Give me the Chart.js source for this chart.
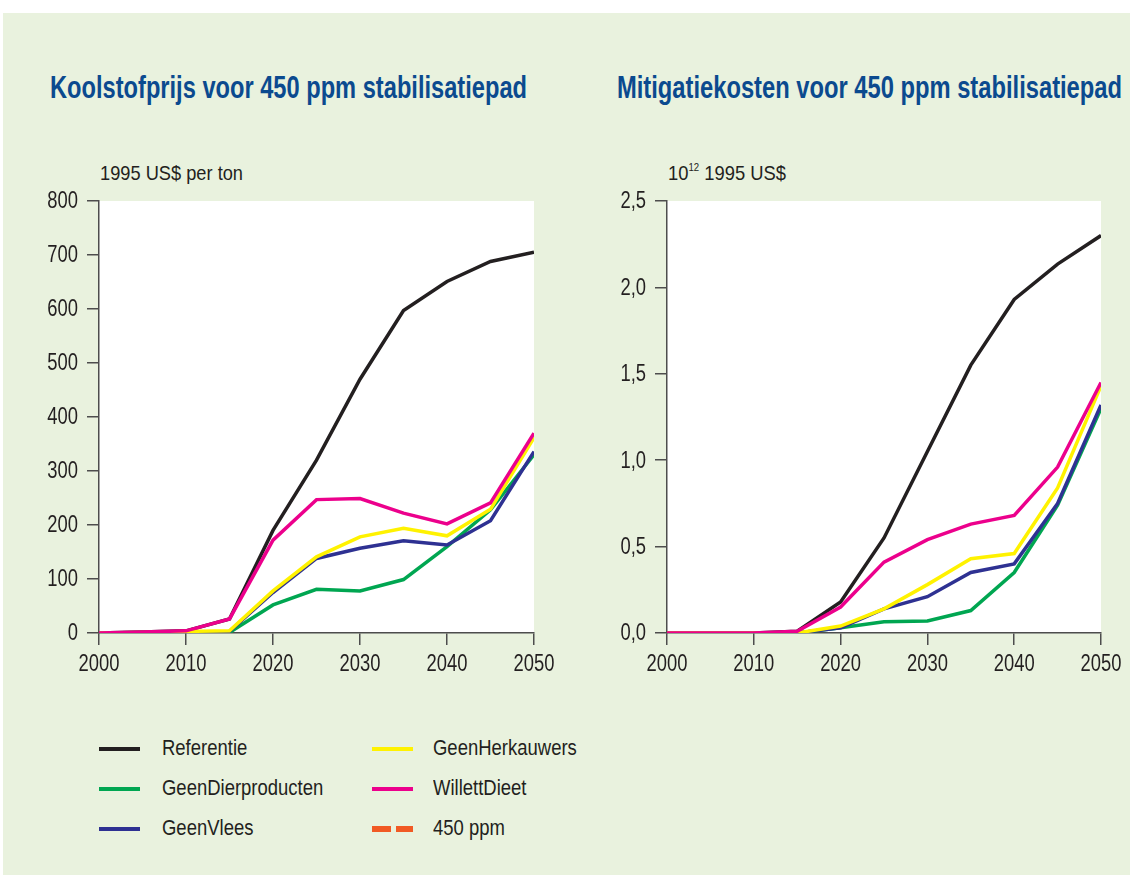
<!DOCTYPE html>
<html>
<head>
<meta charset="utf-8">
<script src="https://cdn.jsdelivr.net/npm/chart.js@4.4.1/dist/chart.umd.min.js"></script>
<style>
  html, body { margin:0; padding:0; background:#ffffff; }
  body { width:1130px; height:875px; position:relative; overflow:hidden;
         font-family:'Liberation Sans',Arial,sans-serif; color:#231f20; }
  #panel { position:absolute; left:3px; top:13px; width:1127px; height:862px; background:#e9f2de; }
  .fit { transform-origin:0 0; }
  .title { position:absolute; font-weight:bold; font-size:31px; line-height:31px; color:#0b4a8f; white-space:nowrap; }
  .unit { position:absolute; font-size:21px; line-height:21px; white-space:nowrap; }
  .unit sup { font-size:11px; line-height:0; vertical-align:9px; }
  canvas { position:absolute; }
  .leg { position:absolute; font-size:22px; line-height:22px; white-space:nowrap; }
  .sw { position:absolute; height:4px; }
</style>
</head>
<body>
<div id="panel"></div>
<div class="title fit" data-w="477" style="left:50px; top:72px;">Koolstofprijs voor 450 ppm stabilisatiepad</div>
<div class="title fit" data-w="505" style="left:617px; top:72px;">Mitigatiekosten voor 450 ppm stabilisatiepad</div>
<div class="unit fit" data-w="143" style="left:100px; top:162px;">1995 US$ per ton</div>
<div class="unit fit" data-w="118" style="left:668px; top:162px;">10<sup>12</sup> 1995 US$</div>
<canvas id="c1" width="540" height="515" style="left:20px; top:185px;"></canvas>
<canvas id="c2" width="542" height="515" style="left:588px; top:185px;"></canvas>
<div id="legend"></div>
<script>
// ---- data ----
const years = [2000, 2005, 2010, 2015, 2020, 2025, 2030, 2035, 2040, 2045, 2050];
const seriesNames = ['Referentie', 'GeenDierproducten', 'GeenVlees', 'GeenHerkauwers', 'WillettDieet'];
const seriesColors = ['#231f20', '#00a651', '#2e3192', '#fff200', '#ec008c'];
const drawOrder = [5, 4, 3, 2, 1];

// Koolstofprijs (1995 US$ per ton)
const priceReferentie   = [0, 2, 4, 26, 190, 320, 470, 597, 651, 688, 705];
const priceGeenDier     = [0, 0, 1, 1, 52, 81, 78, 99, 160, 228, 330];
const priceGeenVlees    = [0, 1, 2, 3, 75, 138, 157, 171, 163, 208, 336];
const priceGeenHerk     = [0, 1, 3, 4, 78, 141, 178, 194, 180, 229, 362];
const priceWillett      = [0, 2, 4, 26, 172, 247, 249, 222, 202, 241, 370];

// Mitigatiekosten (10^12 1995 US$)
const costReferentie    = [0, 0, 0, 0.01, 0.18, 0.55, 1.05, 1.55, 1.93, 2.135, 2.30];
const costGeenDier      = [0, 0, 0, 0, 0.03, 0.065, 0.07, 0.13, 0.35, 0.74, 1.30];
const costGeenVlees     = [0, 0, 0, 0, 0.03, 0.14, 0.21, 0.35, 0.40, 0.75, 1.32];
const costGeenHerk      = [0, 0, 0, 0, 0.04, 0.14, 0.28, 0.43, 0.46, 0.84, 1.43];
const costWillett       = [0, 0, 0, 0.01, 0.15, 0.41, 0.54, 0.63, 0.68, 0.96, 1.45];

const xTicks = [2000, 2010, 2020, 2030, 2040, 2050];
const priceTicks = [0, 100, 200, 300, 400, 500, 600, 700, 800];
const costTicks = [0, 0.5, 1.0, 1.5, 2.0, 2.5];

const legendNames = ['Referentie', 'GeenDierproducten', 'GeenVlees', 'GeenHerkauwers', 'WillettDieet', '450 ppm'];
const legendColors = ['#231f20', '#00a651', '#2e3192', '#fff200', '#ec008c', '#f15a24'];

// ---- drawing ----
const FONT = "'Liberation Sans',Arial,sans-serif";
const AXIS = '#4d4d4d';
const TXT = '#231f20';
const SQUEEZE = 0.8;

const whiteArea = {
  id: 'whiteArea',
  beforeDraw(chart) {
    const a = chart.chartArea, ctx = chart.ctx;
    ctx.save();
    ctx.fillStyle = '#ffffff';
    ctx.fillRect(a.left, a.top, a.right - a.left, a.bottom - a.top);
    ctx.restore();
  }
};

// draws the scales' tick labels in a condensed face (positions from the library's scales)
const condensedTicks = {
  id: 'condensedTicks',
  afterDraw(chart, args, opts) {
    const ctx = chart.ctx;
    const xs = chart.scales.x, ys = chart.scales.y;
    ctx.save();
    ctx.fillStyle = TXT;
    ctx.font = '23px ' + FONT;
    ctx.textBaseline = 'middle';
    ctx.textAlign = 'center';
    xs.ticks.forEach(t => {
      const px = xs.getPixelForValue(t.value);
      ctx.save(); ctx.translate(px, xs.bottom - 35); ctx.scale(SQUEEZE, 1);
      ctx.fillText(opts.fmtX(t.value), 0, 0); ctx.restore();
    });
    ctx.textAlign = 'right';
    ys.ticks.forEach(t => {
      const py = ys.getPixelForValue(t.value);
      ctx.save(); ctx.translate(ys.right - 21, py + 1); ctx.scale(SQUEEZE, 1);
      ctx.fillText(opts.fmtY(t.value), 0, 0); ctx.restore();
    });
    ctx.restore();
  }
};

function buildDatasets(arrays) {
  return arrays.map((vals, i) => ({
    label: seriesNames[i],
    data: vals.map((v, k) => ({ x: years[k], y: v })),
    borderColor: seriesColors[i],
    backgroundColor: seriesColors[i],
    borderWidth: 3.5,
    pointRadius: 0,
    tension: 0,
    fill: false,
    order: drawOrder[i]
  }));
}

function makeChart(id, arrays, tickVals, fmt, padRight) {
  const yMax = tickVals[tickVals.length - 1];
  return new Chart(document.getElementById(id), {
    type: 'line',
    data: { datasets: buildDatasets(arrays) },
    options: {
      responsive: false,
      animation: false,
      events: [],
      layout: { padding: { top: 16, right: padRight, bottom: 0, left: 0 } },
      plugins: {
        legend: { display: false }, tooltip: { enabled: false }, title: { display: false },
        condensedTicks: { fmtX: v => String(v), fmtY: fmt }
      },
      scales: {
        x: {
          type: 'linear', min: xTicks[0], max: xTicks[xTicks.length - 1],
          afterBuildTicks: s => { s.ticks = xTicks.map(v => ({ value: v })); },
          ticks: { display: false, callback: v => String(v) },
          grid: { drawOnChartArea: false, drawTicks: true, tickLength: 12, color: AXIS, lineWidth: 1.5 },
          border: { display: true, color: AXIS, width: 1.5 },
          afterFit: s => { s.height = 67; }
        },
        y: {
          min: 0, max: yMax,
          afterBuildTicks: s => { s.ticks = tickVals.map(v => ({ value: v })); },
          ticks: { display: false, callback: fmt },
          grid: { drawOnChartArea: false, drawTicks: true, tickLength: 12, color: AXIS, lineWidth: 1.5 },
          border: { display: true, color: AXIS, width: 1.5 },
          afterFit: s => { s.width = 79; }
        }
      }
    },
    plugins: [whiteArea, condensedTicks]
  });
}

makeChart('c1', [priceReferentie, priceGeenDier, priceGeenVlees, priceGeenHerk, priceWillett],
  priceTicks, v => String(v), 26);
makeChart('c2', [costReferentie, costGeenDier, costGeenVlees, costGeenHerk, costWillett],
  costTicks, v => v.toFixed(1).replace('.', ','), 29);

// legend (two columns)
const leg = document.getElementById('legend');
legendNames.forEach((name, i) => {
  const col = Math.floor(i / 3), row = i % 3;
  const cy = 749 + row * 40;
  const sx = col === 0 ? 99 : 372;
  const tx = col === 0 ? 162 : 433;
  if (name === '450 ppm') {
    [[372, 19], [396, 17]].forEach(([x, w]) => {
      const d = document.createElement('div');
      d.className = 'sw';
      d.style.cssText = `left:${x}px; top:${cy - 3}px; width:${w}px; height:6px; background:${legendColors[i]};`;
      leg.appendChild(d);
    });
  } else {
    const d = document.createElement('div');
    d.className = 'sw';
    d.style.cssText = `left:${sx}px; top:${cy - 2}px; width:41px; background:${legendColors[i]};`;
    leg.appendChild(d);
  }
  const t = document.createElement('div');
  t.className = 'leg';
  t.style.left = tx + 'px';
  t.style.top = (cy - 12) + 'px';
  t.style.transformOrigin = '0 0';
  t.style.transform = 'scaleX(0.84)';
  t.textContent = name;
  leg.appendChild(t);
});

// condense the HTML texts to the widths of the original
document.querySelectorAll('.fit').forEach(el => {
  const w = el.getBoundingClientRect().width;
  const target = parseFloat(el.dataset.w);
  if (w > 0) el.style.transform = `scaleX(${target / w})`;
});
</script>
</body>
</html>
